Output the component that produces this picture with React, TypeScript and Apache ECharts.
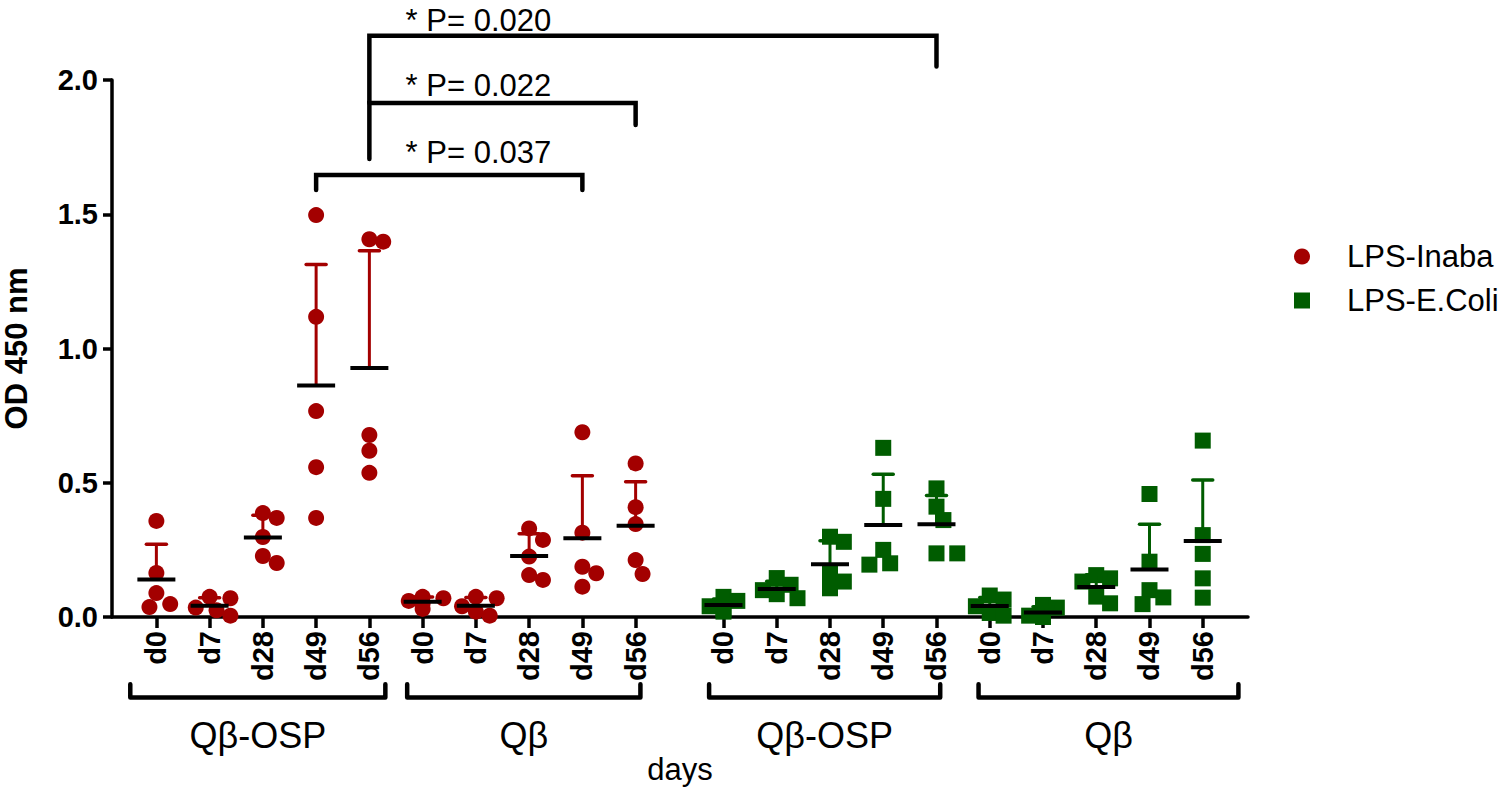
import React, { useEffect, useRef } from "react";
import * as echarts from "echarts";

// ---------------- data ----------------
const dayLabels = ["d0", "d7", "d28", "d49", "d56"];
const groupLabels = ["Qβ-OSP", "Qβ", "Qβ-OSP", "Qβ"];
const seriesNames = ["LPS-Inaba", "LPS-E.Coli"];

// OD 450 nm, 5 animals per day
const inabaQbOSP = [
  [0.358, 0.164, 0.089, 0.048, 0.037],
  [0.075, 0.07, 0.035, 0.025, 0.005],
  [0.369, 0.387, 0.298, 0.227, 0.201],
  [1.497, 1.118, 0.767, 0.558, 0.369],
  [1.398, 1.407, 0.678, 0.619, 0.537],
];
const inabaQb = [
  [0.075, 0.07, 0.06, 0.05, 0.03],
  [0.075, 0.07, 0.04, 0.02, 0.005],
  [0.33, 0.287, 0.225, 0.156, 0.138],
  [0.688, 0.314, 0.187, 0.163, 0.113],
  [0.572, 0.409, 0.346, 0.212, 0.16],
];
const ecoliQbOSP = [
  [0.075, 0.06, 0.04, 0.03, 0.02],
  [0.145, 0.12, 0.1, 0.085, 0.07],
  [0.299, 0.28, 0.163, 0.132, 0.107],
  [0.63, 0.44, 0.25, 0.2, 0.195],
  [0.479, 0.411, 0.361, 0.237, 0.237],
];
const ecoliQb = [
  [0.08, 0.065, 0.04, 0.015, 0.005],
  [0.045, 0.035, 0.005, 0.0, 0.0],
  [0.156, 0.144, 0.132, 0.076, 0.051],
  [0.458, 0.206, 0.1, 0.073, 0.048],
  [0.657, 0.305, 0.235, 0.144, 0.072],
];

// significance: [groupA, dayA, groupB, dayB], p value
const sigPairs = [
  [0, 3, 1, 3],
  [0, 4, 1, 4],
  [0, 4, 2, 4],
];
const pValues = ["0.037", "0.022", "0.020"];

const yTicks = [0, 0.5, 1.0, 1.5, 2.0];

// ---------------- layout (not data) ----------------
const groupStart = [0, 5, 10.65, 15.65];
const groupSpan = [
  [-0.49, 4.3],
  [4.71, 9.09],
  [10.38, 14.72],
  [15.44, 20.32],
];
// bracket levels in y-units: [top, leftLegBottom, rightLegBottom, textY]
const sigLevels = [
  [1.646, 1.59, 1.59, 1.73],
  [1.914, 1.706, 1.832, 1.98],
  [2.165, 1.914, 2.05, 2.221],
];
const sigTextX = 4.68;
const RED = "#a30000";
const GREEN = "#005c00";
const FONT = '"Liberation Sans", Arial, Helvetica, sans-serif';

const xPos = (g: number, d: number) => groupStart[g] + d;
const allPos: number[] = [];
groupStart.forEach((_, g) => dayLabels.forEach((__, d) => allPos.push(xPos(g, d))));

function swarm(values: number[], center: number) {
  const ux = 53.25, uy = 268.5, dist = 14;
  const placed: number[][] = [];
  const order = values.map((_, i) => i).sort((a, b) => values[b] - values[a]);
  for (const i of order) {
    const v = values[i];
    const cands = [0, 1, -1, 2, -2, 3, -3];
    let done = false;
    for (const k of cands) {
      const x = center + k * 0.13;
      const ok = placed.every(([px, pv]) => Math.hypot((px - x) * ux, (pv - v) * uy) >= dist);
      if (ok) {
        placed.push([x, v]);
        done = true;
        break;
      }
    }
    if (!done) placed.push([center, v]);
  }
  return placed;
}

function buildPoints(groups: { g: number; data: number[][] }[]) {
  const pts: number[][] = [];
  const stats: number[][] = [];
  groups.forEach(({ g, data }) => {
    data.forEach((vals, d) => {
      const c = xPos(g, d);
      swarm(vals, c).forEach((p) => pts.push(p));
      const n = vals.length;
      const mean = vals.reduce((a, b) => a + b, 0) / n;
      const sd = Math.sqrt(vals.reduce((a, b) => a + (b - mean) * (b - mean), 0) / (n - 1));
      stats.push([c, mean, sd]);
    });
  });
  return { pts, stats };
}

const red = buildPoints([
  { g: 0, data: inabaQbOSP },
  { g: 1, data: inabaQb },
]);
const green = buildPoints([
  { g: 2, data: ecoliQbOSP },
  { g: 3, data: ecoliQb },
]);

function meanSdSeries(name: string, color: string, stats: number[][]) {
  return {
    type: "custom",
    name: name + " mean",
    z: 5,
    clip: false,
    data: stats,
    renderItem: (params: any, api: any) => {
      const x = api.value(0), m = api.value(1), sd = api.value(2);
      const c = api.coord([x, m]);
      const t = api.coord([x, m + sd]);
      return {
        type: "group",
        children: [
          { type: "line", shape: { x1: c[0], y1: c[1], x2: t[0], y2: t[1] }, style: { stroke: color, lineWidth: 3 } },
          { type: "line", shape: { x1: t[0] - 10, y1: t[1], x2: t[0] + 10, y2: t[1] }, style: { stroke: color, lineWidth: 3.5, lineCap: "round" } },
          { type: "line", shape: { x1: c[0] - 19, y1: c[1], x2: c[0] + 19, y2: c[1] }, style: { stroke: "#000", lineWidth: 4 } },
        ],
      };
    },
  };
}

const sigData = sigPairs.map((p, i) => [xPos(p[0], p[1]), xPos(p[2], p[3]), ...sigLevels[i], i]);
const groupData = groupSpan.map((s, i) => [s[0], s[1], i]);

const option: any = {
  animation: false,
  backgroundColor: "#fff",
  grid: { left: 112, right: 252, top: 80, bottom: 172, containLabel: false, outerBoundsMode: "none" },
  legend: {
    orient: "vertical",
    left: 1289,
    top: 236,
    itemWidth: 16,
    itemHeight: 16,
    itemGap: 13,
    textStyle: { fontSize: 31, fontFamily: FONT, color: "#000", padding: [0, 0, 0, 32] },
    data: [
      { name: seriesNames[0], icon: "circle" },
      { name: seriesNames[1], icon: "rect" },
    ],
  },
  xAxis: {
    type: "value",
    min: -0.8333,
    max: 20.5,
    name: "days",
    nameLocation: "middle",
    nameGap: 137,
    nameTextStyle: { fontSize: 31, fontFamily: FONT, color: "#000" },
    axisLine: { onZero: false, lineStyle: { color: "#000", width: 3.5 } },
    axisTick: { customValues: allPos, length: 11, lineStyle: { color: "#000", width: 3.5 } },
    axisLabel: {
      customValues: allPos,
      rotate: 90,
      margin: 14,
      fontSize: 29,
      fontWeight: "bold",
      fontFamily: FONT,
      color: "#000",
      formatter: (v: number) => {
        let best = 0;
        allPos.forEach((p, i) => {
          if (Math.abs(p - v) < Math.abs(allPos[best] - v)) best = i;
        });
        return dayLabels[best % dayLabels.length];
      },
    },
    splitLine: { show: false },
  },
  yAxis: {
    type: "value",
    min: yTicks[0],
    max: yTicks[yTicks.length - 1],
    interval: 0.5,
    name: "OD 450 nm",
    nameLocation: "middle",
    nameGap: 80,
    nameTextStyle: { fontSize: 31, fontWeight: "bold", fontFamily: FONT, color: "#000" },
    axisLine: { show: true, onZero: false, lineStyle: { color: "#000", width: 3.5 } },
    axisTick: { show: true, length: 9, lineStyle: { color: "#000", width: 3.5 } },
    axisLabel: {
      margin: 14,
      fontSize: 29,
      fontWeight: "bold",
      fontFamily: FONT,
      color: "#000",
      formatter: (v: number) => v.toFixed(1),
    },
    splitLine: { show: false },
  },
  series: [
    {
      type: "scatter",
      name: seriesNames[0],
      symbol: "circle",
      symbolSize: 16,
      itemStyle: { color: RED, opacity: 1 },
      data: red.pts,
      z: 3,
    },
    {
      type: "scatter",
      name: seriesNames[1],
      symbol: "rect",
      symbolSize: 16,
      itemStyle: { color: GREEN, opacity: 1 },
      data: green.pts,
      z: 3,
    },
    meanSdSeries(seriesNames[0], RED, red.stats),
    meanSdSeries(seriesNames[1], GREEN, green.stats),
    {
      type: "custom",
      name: "significance",
      clip: false,
      z: 6,
      data: sigData,
      renderItem: (params: any, api: any) => {
        const x1 = api.value(0), x2 = api.value(1), top = api.value(2), l = api.value(3), r = api.value(4);
        const i = api.value(6);
        const a = api.coord([x1, l]);
        const b = api.coord([x1, top]);
        const c = api.coord([x2, top]);
        const d = api.coord([x2, r]);
        const tp = api.coord([sigTextX, api.value(5)]);
        return {
          type: "group",
          children: [
            {
              type: "polyline",
              shape: { points: [a, b, c, d] },
              style: { stroke: "#000", lineWidth: 4.5, fill: "none", lineJoin: "miter", lineCap: "round" },
            },
            {
              type: "text",
              x: tp[0],
              y: tp[1],
              style: {
                text: "* P= " + pValues[i],
                fontSize: 31,
                lineHeight: 26,
                fontFamily: FONT,
                fill: "#000",
                align: "left",
                verticalAlign: "middle",
              },
            },
          ],
        };
      },
    },
    {
      type: "custom",
      name: "groups",
      clip: false,
      z: 6,
      data: groupData,
      renderItem: (params: any, api: any) => {
        const x1 = api.value(0), x2 = api.value(1), i = api.value(2);
        const a = api.coord([x1, -0.25]);
        const b = api.coord([x1, -0.3]);
        const c = api.coord([x2, -0.3]);
        const d = api.coord([x2, -0.25]);
        const t = api.coord([(x1 + x2) / 2, -0.44]);
        return {
          type: "group",
          children: [
            {
              type: "polyline",
              shape: { points: [a, b, c, d] },
              style: { stroke: "#000", lineWidth: 4.5, fill: "none", lineJoin: "round", lineCap: "round" },
            },
            {
              type: "text",
              x: t[0],
              y: t[1],
              style: {
                text: groupLabels[i],
                fontSize: 36,
                fontFamily: FONT,
                fill: "#000",
                align: "center",
                verticalAlign: "middle",
              },
            },
          ],
        };
      },
    },
  ],
};

export default function App() {
  const ref = useRef<HTMLDivElement>(null);
  useEffect(() => {
    const chart = echarts.init(ref.current!, null, { renderer: "svg" });
    chart.setOption(option);
    return () => chart.dispose();
  }, []);
  return <div ref={ref} style={{ position: "absolute", left: 0, top: 0, width: 1500, height: 789 }} />;
}
